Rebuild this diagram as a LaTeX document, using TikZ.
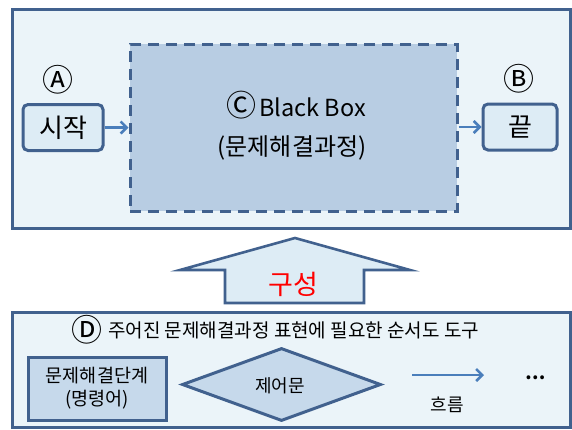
\documentclass[tikz,border=0pt]{standalone}
\usepackage{fontspec}
\setmainfont{Noto Sans CJK KR}
\usetikzlibrary{arrows.meta,shapes.geometric}
\definecolor{frame}{HTML}{41618E}
\definecolor{panel}{HTML}{EBF4F9}
\definecolor{bbfill}{HTML}{B8CDE3}
\definecolor{smallfill}{HTML}{DDECF5}
\definecolor{stepfill}{HTML}{C6D9EB}
\definecolor{conn}{HTML}{4A7EBB}
\tikzset{
  panelbox/.style={draw=frame, line width=3pt, fill=panel},
  endbox/.style={draw=frame, line width=3pt, fill=smallfill, rounded corners=5pt, minimum width=80pt, minimum height=46pt, inner sep=0pt, font=\fontsize{26}{26}\selectfont},
  circlbl/.style={inner sep=0pt, font=\fontsize{31}{31}\selectfont},
  conn/.style={draw=conn, line width=2.8pt, -{Straight Barb[length=6pt,width=12pt,line width=2.6pt]}},
  stepbox/.style={draw=frame, line width=3pt, fill=stepfill, align=center, inner sep=0pt, font=\fontsize{18.5}{23}\selectfont},
}
\begin{document}
\begin{tikzpicture}[x=1pt,y=-1pt]
\useasboundingbox (0,0) rectangle (572,429);
\fill[white] (0,0) rectangle (572,429);
% top panel
\node[panelbox, minimum width=558pt, minimum height=219pt, inner sep=0pt] (top) at (291,118.5) {};
\node[draw=frame, line width=3pt, dash pattern=on 11pt off 7pt, fill=bbfill, minimum width=327pt, minimum height=167pt, inner sep=0pt] (bb) at (293.5,127.5) {};
\node[inner sep=0pt, anchor=base west] (bbt) at (226,116) {\fontsize{30}{30}\selectfont Ⓒ\hspace{3pt}\fontsize{23.5}{23.5}\selectfont Black Box};
\node[inner sep=0pt, font=\fontsize{24}{24}\selectfont] (bbs) at (292,148) {(문제해결과정)};
\node[endbox] (start) at (63,127.5) {시작};
\node[endbox, minimum width=74pt] (end) at (520,127) {끝};
\node[circlbl] (la) at (58,80) {Ⓐ};
\node[circlbl] (lb) at (519,79) {Ⓑ};
\draw[conn] (start.east) -- (bb.west |- start.east);
\draw[conn] (bb.east |- end.west) -- (end.west);
% big arrow
\coordinate (tip) at (295,238);
\draw[draw=frame, line width=2.6pt, fill=smallfill, line join=miter]
  (tip) -- (410,270) -- (364,270) -- (364,303) -- (225,303) -- (225,270) -- (180,270) -- cycle;
\node[inner sep=0pt, text=red, font=\fontsize{27}{27}\selectfont] (gs) at (293,284) {구성};
% bottom panel
\node[panelbox, minimum width=558pt, minimum height=115pt, inner sep=0pt] (bot) at (291,369.5) {};
\node[circlbl] (ld) at (87,330) {Ⓓ};
\node[inner sep=0pt, font=\fontsize{19}{19}\selectfont, anchor=west] (dl) at (108,330) {주어진 문제해결과정 표현에 필요한 순서도 도구};
\node[stepbox, minimum width=138pt, minimum height=63pt] (step) at (97,388.5) {문제해결단계\\(명령어)};
\node[diamond, draw=frame, line width=3pt, fill=stepfill, minimum width=199pt, minimum height=73pt, inner sep=0pt, aspect=2.7] (ctl) at (281.5,384.5) {};
\node[inner sep=0pt, font=\fontsize{18}{18}\selectfont] (ctlt) at (280,386) {제어문};
\coordinate (fs) at (412,375);
\coordinate (fe) at (484,375);
\draw[conn] (fs) -- (fe);
\node[inner sep=0pt, font=\fontsize{18}{18}\selectfont] (flow) at (447,405) {흐름};
\node[inner sep=0pt, font=\bfseries\fontsize{18}{18}\selectfont] (dots) at (536,378) {…};
\end{tikzpicture}
\end{document}
